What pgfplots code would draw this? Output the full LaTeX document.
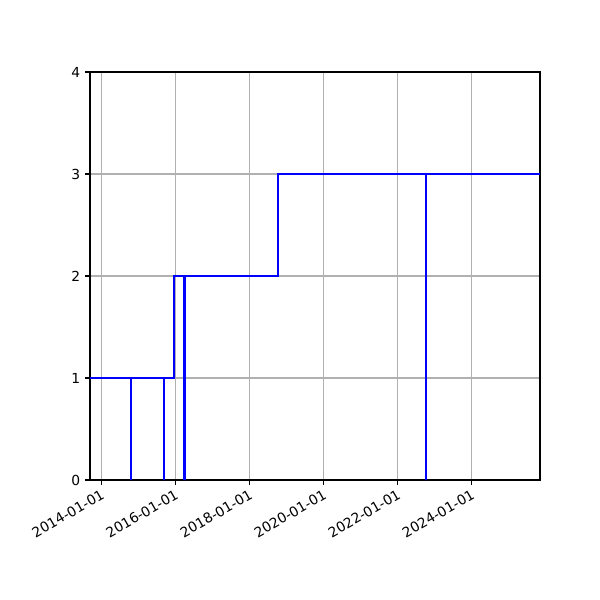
\documentclass[border=0pt]{standalone}
\usepackage{pgfplots}
\pgfplotsset{compat=1.18}
\usepackage{fontspec}
\setmainfont{DejaVu Sans}
\begin{document}
\begin{tikzpicture}
\path (-0.9in,-1.2in) rectangle (5.1in,4.8in);
\begin{axis}[
  at={(0,0)}, anchor=south west,
  scale only axis, width=4.5in, height=4.08in,
  xmin=-111, xmax=4327, ymin=0, ymax=4,
  xtick={0,730,1461,2191,2922,3652},
  xticklabels={2014-01-01,2016-01-01,2018-01-01,2020-01-01,2022-01-01,2024-01-01},
  xticklabel style={rotate=30, anchor=north east, font=\fontsize{10}{12}\selectfont, inner sep=2pt},
  ytick={0,1,2,3,4},
  yticklabel style={font=\fontsize{10}{12}\selectfont},
  /pgf/number format/assume math mode=true,
  tick align=outside, tick pos=left,
  major tick length=3.5pt,
  every tick/.style={black, line width=0.8pt},
  axis line style={line width=0.8pt},
  grid=major,
  major grid style={color={rgb,255:red,176;green,176;blue,176}, line width=0.8pt},
]
\addplot[blue, line width=1.5pt, mark=none] coordinates {
(-111,1) (290,1) (290,0) (290,1) (618,1) (618,0) (618,1) (714,1) (714,2)
(815,2) (815,0) (815,2) (823,2) (823,0) (823,2)
(1746,2) (1746,3) (3199,3) (3199,0) (3199,3) (4327,3)
};
\end{axis}
\end{tikzpicture}
\end{document}
